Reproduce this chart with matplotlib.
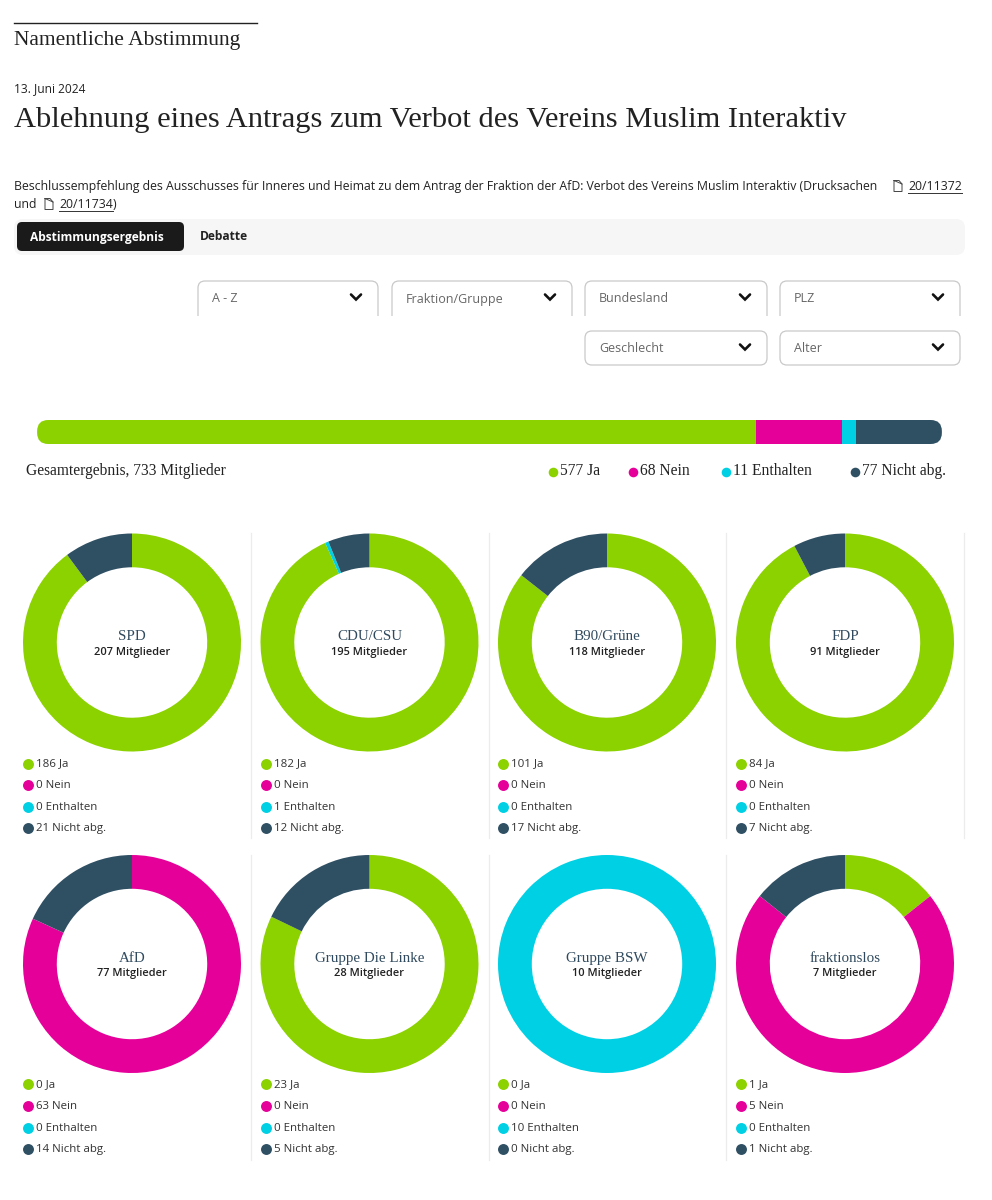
import matplotlib
matplotlib.use("Agg")
import matplotlib.pyplot as plt
from matplotlib.patches import FancyBboxPatch, Rectangle

SERIF = "DejaVu Serif"
SANS = "Open Sans"
INK = "#222222"
NAVY = "#2f4a5e"

vote_labels = ["Ja", "Nein", "Enthalten", "Nicht abg."]
vote_colors = ["#8cd100", "#e6009a", "#00d0e4", "#2f4f63"]

total_values = [577, 68, 11, 77]
total_members = 733

parties = ["SPD", "CDU/CSU", "B90/Grüne", "FDP", "AfD", "Gruppe Die Linke", "Gruppe BSW", "fraktionslos"]
members = [207, 195, 118, 91, 77, 28, 10, 7]
ja = [186, 182, 101, 84, 0, 23, 0, 1]
nein = [0, 0, 0, 0, 63, 0, 0, 5]
enthalten = [0, 1, 0, 0, 0, 0, 10, 0]
nicht_abg = [21, 12, 17, 7, 14, 5, 0, 1]

W, H = 992, 1200
fig = plt.figure(figsize=(W / 100, H / 100), dpi=100, facecolor="white")
ax = fig.add_axes([0, 0, 1, 1])
ax.set_xlim(0, W)
ax.set_ylim(H, 0)
ax.axis("off")


def px(size):
    return size * 0.72


def txt(x, y, s, size, family=SANS, color=INK, weight="normal", ha="left", **kw):
    return ax.text(x, y, s, fontsize=px(size), family=family, color=color,
                   weight=weight, ha=ha, va="center", **kw)


def rbox(x0, y0, x1, y1, r, fc, ec="none", lw=0, z=1):
    p = FancyBboxPatch((x0 + r, y0 + r), x1 - x0 - 2 * r, y1 - y0 - 2 * r,
                       boxstyle=f"round,pad={r},rounding_size={r}",
                       fc=fc, ec=ec, lw=lw, zorder=z, mutation_aspect=1)
    ax.add_patch(p)
    return p


def doc_icon(x, y):
    ax.plot([x, x, x + 4.5, x + 8, x + 8, x],
            [y - 5.5, y + 5.5, y + 5.5, y + 5.5, y - 2, y - 5.5][::1],
            color="#444444", lw=0.7, solid_capstyle="round")
    ax.plot([x, x + 5, x + 8], [y - 5.5, y - 5.5, y - 2], color="#444444", lw=0.7)


# header
ax.plot([14, 257], [22.5, 22.5], color="#222222", lw=1)
txt(14, 40, "Namentliche Abstimmung", 21.5, family="Liberation Serif")
txt(14, 89, "13. Juni 2024", 12)
txt(14, 120, "Ablehnung eines Antrags zum Verbot des Vereins Muslim Interaktiv", 30.5, family="Liberation Serif")
txt(14, 186.5, "Beschlussempfehlung des Ausschusses für Inneres und Heimat zu dem Antrag der Fraktion der AfD: "
    "Verbot des Vereins Muslim Interaktiv (Drucksachen", 12.2)
doc_icon(894, 186)
txt(908, 186.5, "20/11372", 12.2)
ax.plot([908, 962], [193, 193], color="#333333", lw=0.7)
txt(14, 204.5, "und", 12.2)
doc_icon(45, 204)
txt(59, 204.5, "20/11734", 12.2)
ax.plot([59, 113], [211, 211], color="#333333", lw=0.7)
txt(113, 204.5, ")", 12.2)

# tabs
rbox(14, 219, 965, 255, 9, "#f6f6f6")
rbox(17, 222, 184, 251, 5, "#1a1a1a", z=2)
txt(30, 237, "Abstimmungsergebnis", 12, color="white", weight="bold", zorder=3)
txt(200, 237, "Debatte", 12, color="#222222", weight="bold", zorder=3)

# filters
filters = [("A - Z", 198, 378, 281, 324), ("Fraktion/Gruppe", 392, 572, 281, 324),
           ("Bundesland", 585, 767, 281, 324), ("PLZ", 780, 960, 281, 324),
           ("Geschlecht", 585, 767, 331, 365), ("Alter", 780, 960, 331, 365)]
for label, x0, x1, y0, y1 in filters:
    rbox(x0, y0, x1, y1, 7, "white", ec="#c9c9c9", lw=0.9, z=2)
    txt(x0 + 14, (y0 + 299 - 281 + y0) / 2 + 9 if y0 == 281 else 348.5, label, 12.5, color="#666666", zorder=4)
    cy = 297 if y0 == 281 else 347
    ax.plot([x1 - 27, x1 - 22, x1 - 17], [cy - 2.5, cy + 2.5, cy - 2.5], color="#111111", lw=1.9, zorder=4,
            solid_capstyle="round", solid_joinstyle="miter")
ax.add_patch(Rectangle((190, 316), 780, 12, fc="white", ec="none", zorder=3))

# overall bar
bx0, bx1, by0, by1 = 26, 953, 420, 444
bar_ax = fig.add_axes([bx0 / W, 1 - by1 / H, (bx1 - bx0) / W, (by1 - by0) / H])
bar_ax.set_xlim(0, sum(total_values))
bar_ax.set_ylim(0, 1)
bar_ax.axis("off")
clip = FancyBboxPatch((0.012, 0.0), 0.976, 1.0, boxstyle="round,pad=0,rounding_size=0.012",
                      transform=bar_ax.transAxes, mutation_aspect=(bx1 - bx0) / (by1 - by0), fc="none", ec="none")
bar_ax.add_patch(clip)
left = 0
for v, c in zip(total_values, vote_colors):
    b = bar_ax.barh(0.5, v, left=left, height=1, color=c)
    for r in b:
        r.set_clip_path(clip)
    left += v

txt(26, 471, f"Gesamtergebnis, {total_members} Mitglieder", 15.5, family="Liberation Serif")
legend_dot_x = [553, 633, 726, 855]
for v, lab, c, x in zip(total_values, vote_labels, vote_colors, legend_dot_x):
    ax.scatter([x], [471.5], s=48, color=c, zorder=3, linewidths=0)
    txt(x + 7, 471, f"{v} {lab}", 15.5, family="Liberation Serif")

# donuts
centers_x = [132, 369.5, 607, 845]
centers_y = [642.5, 964]
R = 109
sep_x = [251, 489, 726, 964]
sep_y = [(533, 838), (855, 1160)]
for row, (y0, y1) in enumerate(sep_y):
    for x in sep_x[:3] + ([sep_x[3]] if row == 0 else []):
        ax.plot([x, x], [y0, y1], color="#ececec", lw=0.9)

for i, party in enumerate(parties):
    cx = centers_x[i % 4]
    cy = centers_y[i // 4]
    values = [ja[i], nein[i], enthalten[i], nicht_abg[i]]
    pa = fig.add_axes([(cx - R - 1) / W, 1 - (cy + R + 1) / H, (2 * R + 2) / W, (2 * R + 2) / H])
    pa.pie(values, colors=vote_colors, startangle=90, counterclock=False, radius=R / (R + 1),
           wedgeprops=dict(width=0.31 * R / (R + 1), linewidth=0))
    pa.set_xlim(-1, 1)
    pa.set_ylim(-1, 1)
    pa.patch.set_alpha(0)
    txt(cx, cy - 5.5, party, 15, family="Liberation Serif", color=NAVY, ha="center", zorder=5)
    txt(cx, cy + 9.5, f"{members[i]} Mitglieder", 11, color="#222222", ha="center", weight="semibold", zorder=5)
    ly = [cy + 121, cy + 142.5, cy + 164.5, cy + 185.5] if i < 4 else [cy + 120, cy + 142, cy + 164, cy + 185]
    for v, lab, c, yy in zip(values, vote_labels, vote_colors, ly):
        ax.scatter([cx - 104], [yy], s=62, color=c, linewidths=0, zorder=3)
        txt(cx - 96, yy + 0.5, f"{v} {lab}", 11.5, color="#333333")

fig.savefig("out.png", dpi=100, facecolor="white")
